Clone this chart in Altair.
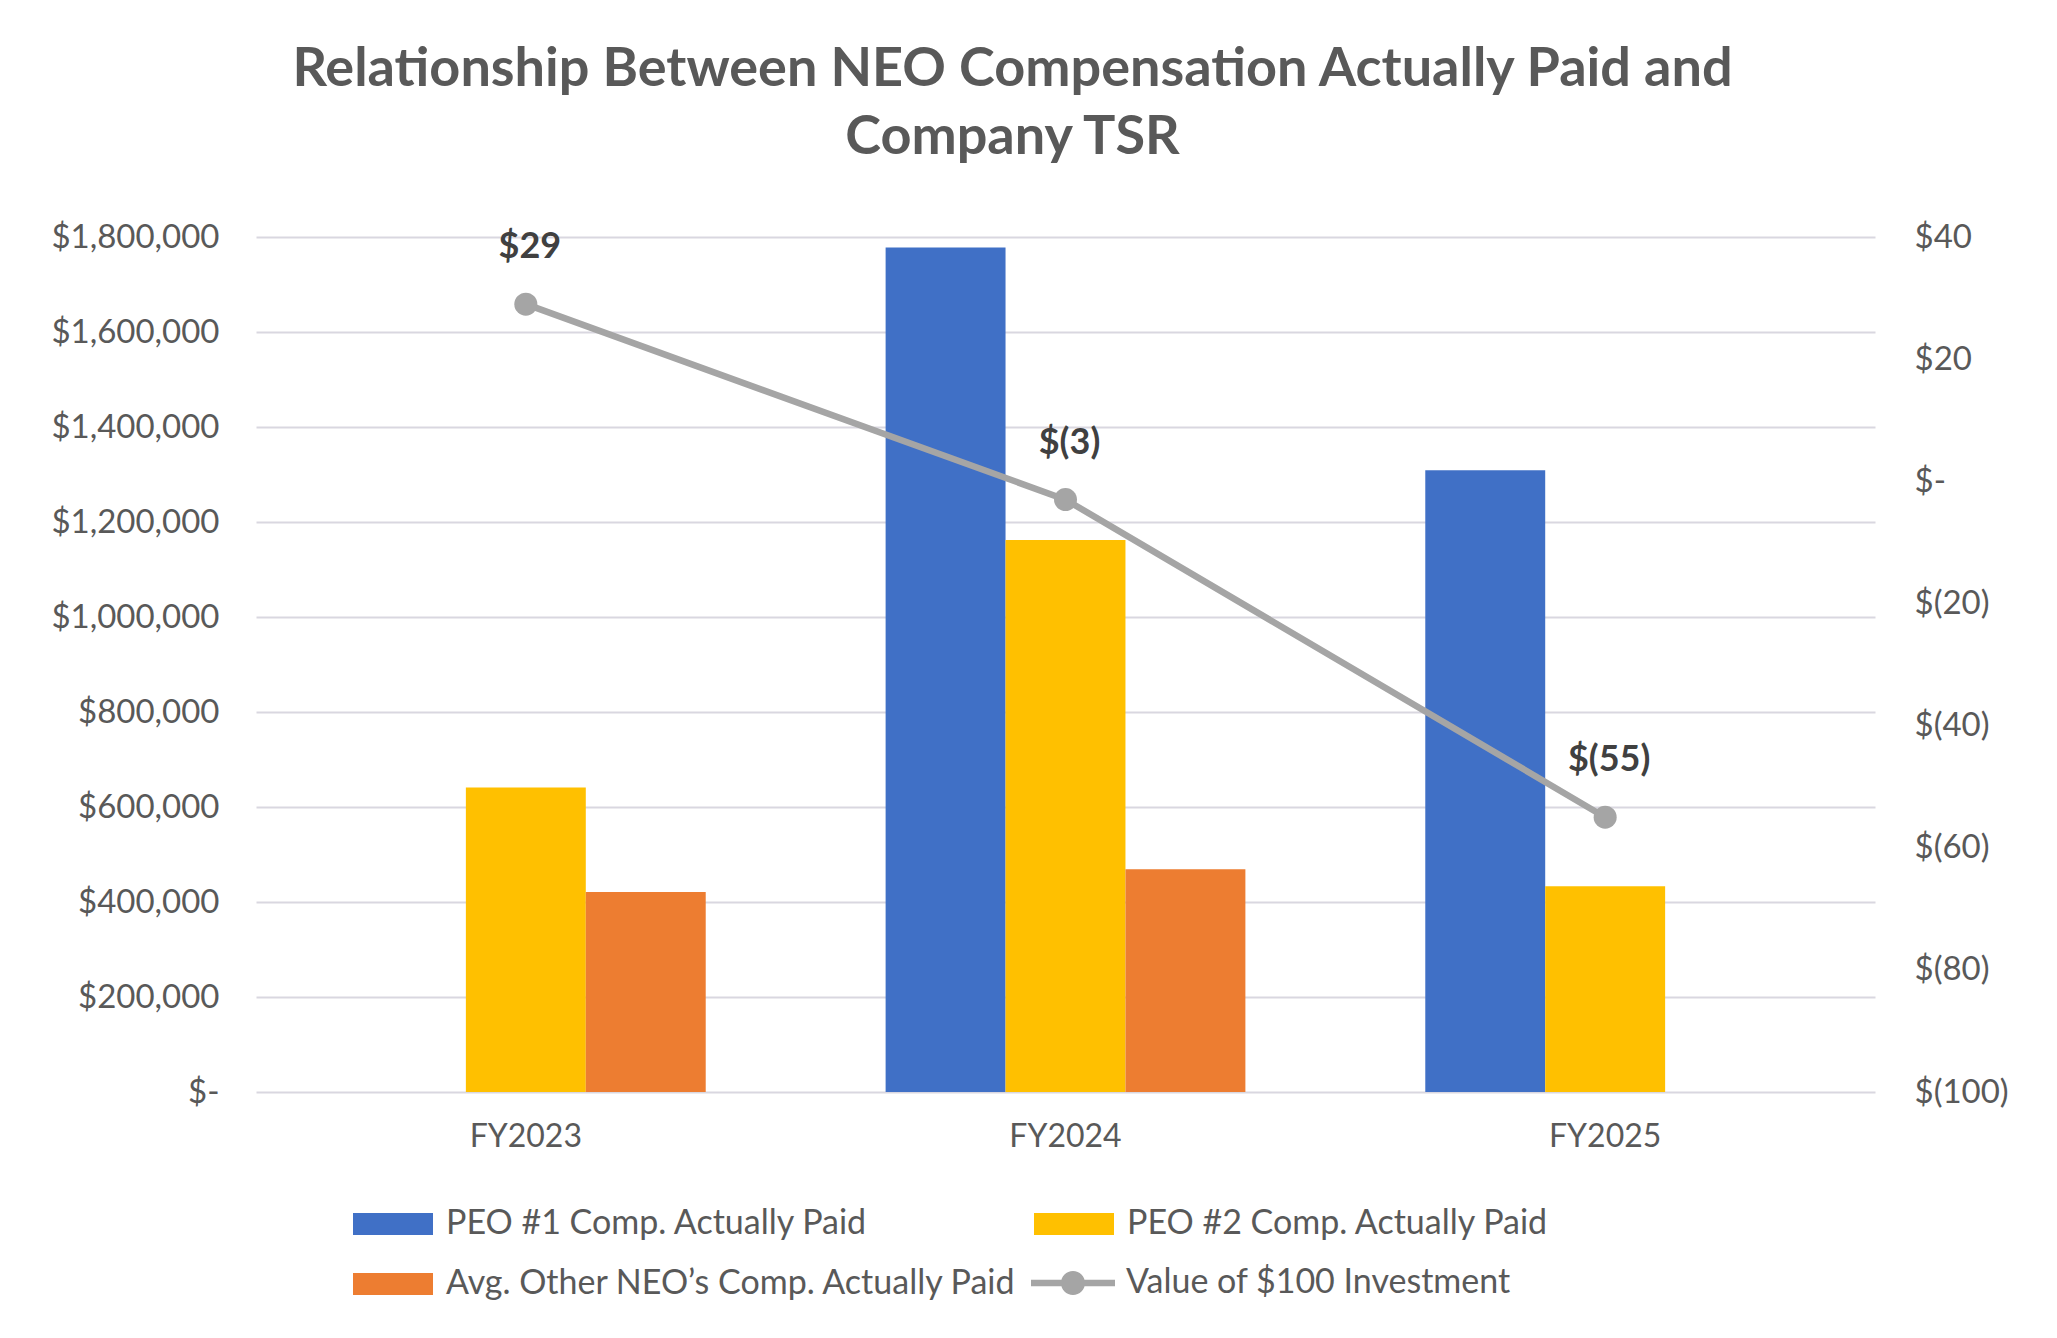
import altair as alt
import pandas as pd

years = ["FY2023", "FY2024", "FY2025"]
series = [
    "PEO #1 Comp. Actually Paid",
    "PEO #2 Comp. Actually Paid",
    "Avg. Other NEO’s Comp. Actually Paid",
]
peo1_values = [None, 1778000, 1309000]
peo2_values = [641000, 1162000, 433000]
other_values = [421000, 469000, None]
tsr_values = [29, -3, -55]
tsr_labels = ["$29", "$(3)", "$(55)"]
tsr_series = "Value of $100 Investment"

bar_colors = ["#4070c6", "#ffc000", "#ed7d31"]
line_color = "#a5a5a5"
text_color = "#595959"
grid_color = "#d9d7e0"
FONT = "Lato"

rows = []
for name, vals in zip(series, [peo1_values, peo2_values, other_values]):
    for y, v in zip(years, vals):
        if v is not None:
            rows.append({"year": y, "series": name, "value": v})
bar_df = pd.DataFrame(rows)
tsr_df = pd.DataFrame({"year": years, "tsr": tsr_values, "label": tsr_labels,
                       "legend": [tsr_series] * len(years)})

x_enc = alt.X(
    "year:N",
    sort=years,
    scale=alt.Scale(domain=years, paddingInner=1 / 3, paddingOuter=1 / 6),
    axis=alt.Axis(title=None, labelAngle=0, ticks=False, tickSize=0, domain=False,
                  labelPadding=29, labelFontSize=32, labelColor=text_color, labelFont=FONT),
)

left_axis = alt.Axis(
    title=None,
    values=list(range(0, 1800001, 200000)),
    labelExpr="datum.value == 0 ? '$-' : '$' + format(datum.value, ',')",
    grid=True, gridColor=grid_color, gridWidth=2,
    ticks=False, tickSize=0, domain=False, labelPadding=37,
    labelFontSize=33, labelColor=text_color, labelFont=FONT,
)

right_axis = alt.Axis(
    title=None, orient="right",
    values=list(range(-100, 41, 20)),
    labelExpr="datum.value == 0 ? '$-' : (datum.value < 0 ? '$(' + abs(datum.value) + ')' : '$' + datum.value)",
    grid=False, ticks=False, tickSize=0, domain=False, labelPadding=39,
    labelFontSize=33, labelColor=text_color, labelFont=FONT,
)

bars = alt.Chart(bar_df).mark_bar().encode(
    x=x_enc,
    xOffset=alt.XOffset("series:N", scale=alt.Scale(domain=series, paddingInner=0, paddingOuter=0)),
    y=alt.Y("value:Q", scale=alt.Scale(domain=[0, 1800000], nice=False), axis=left_axis),
    color=alt.Color(
        "series:N",
        scale=alt.Scale(domain=series, range=bar_colors),
        legend=alt.Legend(
            title=None, orient="none", legendX=117, legendY=967, columns=2,
            direction="horizontal",
            columnPadding=16, rowPadding=23,
            symbolType="M-2,-0.55H2V0.55H-2Z", symbolSize=1600, symbolStrokeWidth=0,
            labelOffset=33, labelFontSize=34, labelColor=text_color, labelFont=FONT,
            labelLimit=1000,
        ),
    ),
)

y_tsr = alt.Y("tsr:Q", scale=alt.Scale(domain=[-100, 40], nice=False), axis=right_axis)

line = alt.Chart(tsr_df).mark_line(color=line_color, strokeWidth=6.5).encode(
    x=x_enc, y=y_tsr
)
points = alt.Chart(tsr_df).mark_point(filled=True, size=530, opacity=1).encode(
    x=x_enc, y=y_tsr,
    color=alt.Color(
        "legend:N",
        scale=alt.Scale(domain=[tsr_series], range=[line_color]),
        legend=alt.Legend(
            title=None, orient="none", legendX=797, legendY=1026,
            symbolType="M-2.1,-0.16H2.1V0.16H-2.1Z M-0.6,0A0.6,0.6 0 1,1 0.6,0A0.6,0.6 0 1,1 -0.6,0Z",
            symbolSize=1600, symbolStrokeWidth=0, symbolOpacity=1,
            labelOffset=33, labelFontSize=34, labelColor=text_color, labelFont=FONT,
            labelLimit=1000,
        ),
    ),
)
labels = alt.Chart(tsr_df).mark_text(
    font=FONT, fontSize=36, fontWeight="bold", color="#404040",
    baseline="alphabetic", dx=4, dy=-46,
).encode(x=x_enc, y=y_tsr, text="label:N")

tsr_layer = alt.layer(line, points, labels)

chart = (
    alt.layer(bars, tsr_layer)
    .resolve_scale(y="independent", color="independent")
    .properties(
        width=1619, height=855,
        padding={"left": 248, "top": 229, "right": 170, "bottom": 230},
        autosize=alt.AutoSizeParams(type="none"),
        background="white",
        title=alt.TitleParams(
            text=["Relationship Between NEO Compensation Actually Paid and", "Company TSR"],
            font=FONT, fontSize=54, fontWeight="bold", color=text_color,
            anchor="middle", dx=-53, lineHeight=68, baseline="bottom", offset=2,
        ),
    )
    .configure_view(stroke=None)
)

chart.save("out.html", embed_options={"renderer": "svg", "actions": False})
